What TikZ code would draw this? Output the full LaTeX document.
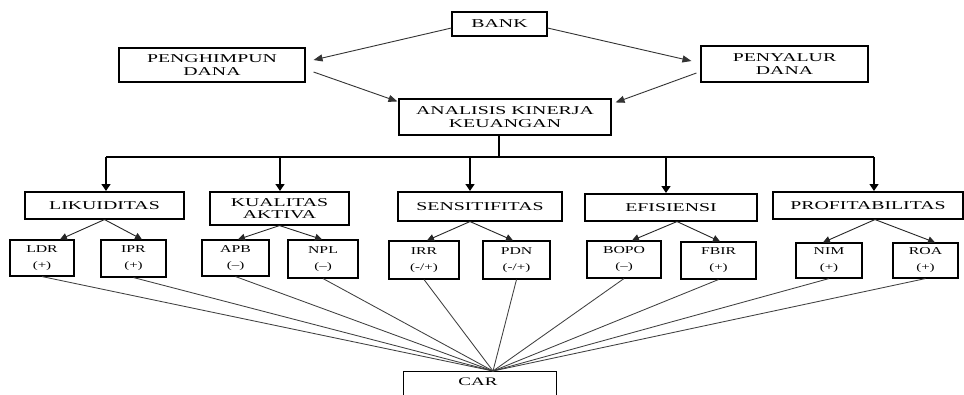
\documentclass[tikz,border=0pt]{standalone}
\usepackage{fontspec}
\setmainfont{Liberation Serif}
\newfontfamily\widefont[FakeStretch=1.65]{Liberation Serif}
\newfontfamily\smwidefont[FakeStretch=1.5]{Liberation Serif}
\usetikzlibrary{arrows.meta}
\begin{document}
\begin{tikzpicture}[x=1pt,y=-1pt,
  box/.style={draw=black,line width=1.1pt,inner sep=0pt,align=center,
    font=\widefont\fontsize{12}{13.5}\selectfont},
  leaf/.style={draw=black,line width=1.1pt,inner sep=0pt,align=center,
    font=\smwidefont\fontsize{10.5}{16}\selectfont},
  tarr/.style={-{Triangle[length=9pt,width=7pt]},line width=0.9pt,draw=black!80},
  varr/.style={-{Triangle[length=7pt,width=9pt]},line width=1.3pt},
  sarr/.style={-{Triangle[length=7pt,width=7pt]},line width=0.9pt,draw=black!85},
  carl/.style={draw=black!75,line width=0.85pt}]
\useasboundingbox (0,0) rectangle (964,394);
\fill[white] (0,0) rectangle (964,394);

% top level
\node[box,minimum width=95pt,minimum height=24pt] (bank) at (499.5,24) {BANK};
\node[box,minimum width=186pt,minimum height=34pt] (pen) at (212,65) {PENGHIMPUN\\DANA};
\node[box,minimum width=167pt,minimum height=36pt] (pny) at (784.5,64) {PENYALUR\\DANA};
\node[box,minimum width=212pt,minimum height=36pt,font=\widefont\fontsize{12}{12.5}\selectfont] (ana) at (505,117) {ANALISIS KINERJA\\KEUANGAN};

% second level
\node[box,minimum width=159pt,minimum height=27pt] (lik) at (104.5,205.5) {LIKUIDITAS};
\node[box,minimum width=139pt,minimum height=33pt,font=\widefont\fontsize{12}{11.5}\selectfont] (kua) at (279.5,208.5) {KUALITAS\\AKTIVA};
\node[box,minimum width=164pt,minimum height=29pt] (sen) at (480,206.5) {SENSITIFITAS};
\node[box,minimum width=172pt,minimum height=27pt] (efi) at (671,207.5) {EFISIENSI};
\node[box,minimum width=190pt,minimum height=27pt] (pro) at (868,205.5) {PROFITABILITAS};

% third level
\newcommand{\lowline}[1]{{\fontsize{10}{16}\selectfont #1}}
\node[leaf,minimum width=64pt,minimum height=36pt] (ldr) at (42,258) {LDR\\\lowline{(+)}};
\node[leaf,minimum width=65pt,minimum height=37pt] (ipr) at (133.5,258.5) {IPR\\\lowline{(+)}};
\node[leaf,minimum width=67pt,minimum height=36pt] (apb) at (235.5,258) {APB\\\lowline{(–)}};
\node[leaf,minimum width=70pt,minimum height=38pt] (npl) at (323,259) {NPL\\\lowline{(–)}};
\node[leaf,minimum width=70pt,minimum height=38pt] (irr) at (424,260) {IRR\\\lowline{(-/+)}};
\node[leaf,minimum width=67pt,minimum height=38pt] (pdn) at (516.5,260) {PDN\\\lowline{(-/+)}};
\node[leaf,minimum width=74pt,minimum height=37pt] (bopo) at (624,259.5) {BOPO\\\lowline{(–)}};
\node[leaf,minimum width=75pt,minimum height=37pt] (fbir) at (718.5,260.5) {FBIR\\\lowline{(+)}};
\node[leaf,minimum width=66pt,minimum height=35pt] (nim) at (829,260.5) {NIM\\\lowline{(+)}};
\node[leaf,minimum width=65pt,minimum height=35pt] (roa) at (925.5,260.5) {ROA\\\lowline{(+)}};

% CAR
\node[draw=black,line width=1pt,minimum width=153pt,minimum height=36pt,inner sep=0pt,
  anchor=north] (car) at (479.5,371) {};
\node[font=\widefont\fontsize{11.5}{13}\selectfont,inner sep=0pt] (cart) at (478,382) {CAR};

% top arrows
\draw[tarr] ([yshift=-4pt]bank.west) -- ([xshift=8pt,yshift=5pt]pen.east);
\draw[tarr] ([xshift=8pt,yshift=-7pt]pen.east) -- ([xshift=-1pt,yshift=-3pt]ana.north west);
\draw[tarr] ([yshift=-4pt]bank.east) -- ([xshift=-9pt,yshift=3pt]pny.west);
\draw[tarr] ([xshift=-4pt,yshift=-9pt]pny.west) -- ([xshift=4pt,yshift=-4pt]ana.north east);

% bus
\coordinate (bus) at (499,157);
\coordinate (b1) at (106,192);
\coordinate (b2) at (280,192);
\coordinate (b3) at (470,192);
\coordinate (b4) at (666,194);
\coordinate (b5) at (874,192);
\draw[line width=1.3pt] (ana.south -| bus) -- (bus);
\draw[line width=1.3pt] (b1 |- bus) -- (b5 |- bus);
\foreach \b in {b1,b2,b3,b4,b5}
  \draw[varr] (\b |- bus) -- ([yshift=1pt]\b);

% second-level to third-level arrows
\draw[sarr] (lik.south) -- ([xshift=18pt]ldr.north);
\draw[sarr] (lik.south) -- ([xshift=8.5pt]ipr.north);
\draw[sarr] (kua.south) -- ([xshift=2.5pt]apb.north);
\draw[sarr] (kua.south) -- ([xshift=-1pt]npl.north);
\draw[sarr] ([xshift=-10pt]sen.south) -- ([xshift=3pt]irr.north);
\draw[sarr] ([xshift=-10pt]sen.south) -- ([xshift=-3.5pt]pdn.north);
\draw[sarr] ([xshift=6pt]efi.south) -- ([xshift=8pt]bopo.north);
\draw[sarr] ([xshift=6pt]efi.south) -- ([xshift=1.5pt]fbir.north);
\draw[sarr] ([xshift=7pt]pro.south) -- ([xshift=-6pt]nim.north);
\draw[sarr] ([xshift=7pt]pro.south) -- ([xshift=9.5pt]roa.north);

% lines to CAR
\coordinate (conv) at ([xshift=13.5pt]car.north);
\foreach \n in {ldr,ipr,apb,npl,irr,pdn,bopo,fbir,nim,roa}
  \draw[carl] (\n.south) -- (conv);
\end{tikzpicture}
\end{document}
